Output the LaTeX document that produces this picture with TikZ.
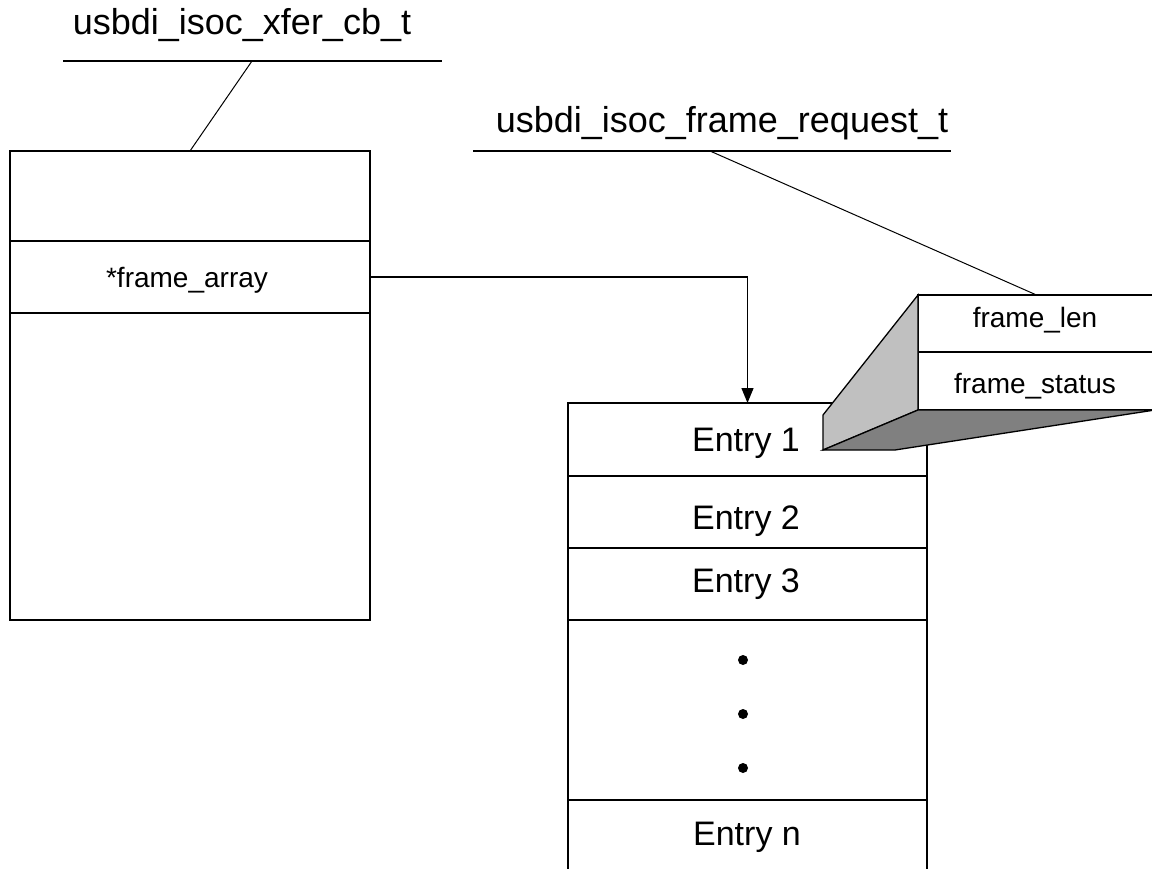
\documentclass[tikz,border=0pt]{standalone}
\usepackage{fontspec}
\setmainfont{Liberation Sans}
\usetikzlibrary{arrows.meta}
\definecolor{sidelight}{RGB}{192,192,192}
\definecolor{sidedark}{RGB}{128,128,128}
\begin{document}
\begin{tikzpicture}[x=1pt,y=-1pt,
  line width=1.3pt,
  row/.style={draw,fill=white,inner sep=0pt,outer sep=0pt,anchor=north west},
  title/.style={anchor=base,inner sep=0pt,font=\fontsize{36}{40}\selectfont},
  entry/.style={anchor=base,inner sep=0pt,font=\fontsize{34}{38}\selectfont},
  field/.style={anchor=base,inner sep=0pt,font=\fontsize{28}{32}\selectfont},
  dot/.style={circle,fill=black,inner sep=0pt,minimum size=10pt},
  face/.style={draw,line join=miter},
  leader/.style={line width=1pt},
  ptr/.style={-{Triangle[length=15pt,width=12pt]}}]
\useasboundingbox (0,0) rectangle (1152,869);
\clip (0,0) rectangle (1152,869);

% isochronous transfer control block
\node[title] (tcb) at (242,35) {usbdi\_isoc\_xfer\_cb\_t};
\coordinate (tcbL) at (63,61);
\coordinate (tcbR) at (442,61);
\coordinate (tcbM) at (252,61);
\draw (tcbL) -- (tcbR);
\node[row,minimum width=360pt,minimum height=90pt] (xtop) at (10,151) {};
\node[row,minimum width=360pt,minimum height=72pt] (farr) at (10,241) {};
\node[row,minimum width=360pt,minimum height=307pt] (xrest) at (10,313) {};
\node[field] (farrtxt) at (187,288) {*frame\_array};
\draw[leader] (tcbM) -- (xtop.north);

% frame request array
\node[row,minimum width=359pt,minimum height=73pt] (e1) at (568,403) {};
\node[row,minimum width=359pt,minimum height=72pt] (e2) at (568,476) {};
\node[row,minimum width=359pt,minimum height=72pt] (e3) at (568,548) {};
\node[row,minimum width=359pt,minimum height=180pt] (edots) at (568,620) {};
\node[row,minimum width=359pt,minimum height=120pt] (en) at (568,800) {};
\node[entry] (e1txt) at (746,451) {Entry 1};
\node[entry] (e2txt) at (746,529) {Entry 2};
\node[entry] (e3txt) at (746,592) {Entry 3};
\node[entry] (entxt) at (747,845) {Entry n};
\node[dot] (d1) at (743,660) {};
\node[dot] (d2) at (743,714) {};
\node[dot] (d3) at (743,768) {};

\draw[ptr] (farr.east) -| (e1.north);

% one frame request, drawn as an extruded record
\node[row,minimum width=237pt,minimum height=57pt] (flen) at (918,295) {};
\node[row,minimum width=237pt,minimum height=58pt] (fstat) at (918,352) {};
\draw[face,fill=sidelight] (flen.north west) -- (fstat.south west)
  -- ++(-95,40) coordinate (backbl) -- ++(0,-35) -- cycle;
\draw[face,fill=sidedark] (fstat.south west) -- (fstat.south east)
  -- (895,450) -- (backbl) -- cycle;
\node[field] (flentxt) at (1035,327) {frame\_len};
\node[field] (fstattxt) at (1035,393) {frame\_status};

\node[title] (freq) at (722,133) {usbdi\_isoc\_frame\_request\_t};
\coordinate (freqL) at (473,151);
\coordinate (freqR) at (951,151);
\coordinate (freqM) at (710,151);
\draw (freqL) -- (freqR);
\draw[leader] (freqM) -- (flen.north);
\end{tikzpicture}
\end{document}
